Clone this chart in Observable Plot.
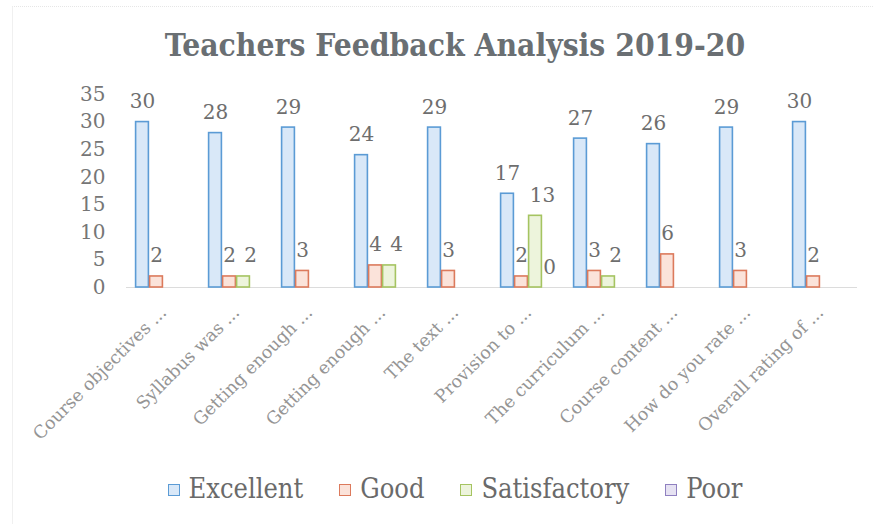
<!DOCTYPE html>
<html>
<head>
<meta charset="utf-8">
<script src="https://cdn.jsdelivr.net/npm/d3@7"></script>
<script src="https://cdn.jsdelivr.net/npm/@observablehq/plot@0.6"></script>
<style>
  body { margin: 0; background: #fff; }
  #wrap { position: relative; width: 874px; height: 524px; overflow: hidden; background: #fff; }
  #frame { position: absolute; left: 12px; top: 6px; width: 880px; height: 530px; border-top: 1px dotted #e6e6e6; border-left: 1px solid #f0f0f0; }
  #title { position: absolute; top: 26px; left: 36px; width: 838px; text-align: center;
           font: bold 31.5px "DejaVu Serif Condensed", "DejaVu Serif", serif; color: #6a6f73; }
  #chart { position: absolute; top: 75px; left: 0; }
  #legend { position: absolute; top: 473px; left: 36px; width: 838px; display: flex; justify-content: center;
            font: 27px "DejaVu Serif Condensed", "DejaVu Serif", serif; color: #6a6a6a; }
  .item { display: flex; align-items: center; margin: 0 18px; }
  .sw { width: 10px; height: 10px; border: 1px solid; margin-right: 9px; margin-top: 3px; }
</style>
</head>
<body>
<div id="wrap">
  <div id="frame"></div>
  <div id="title">Teachers Feedback Analysis 2019-20</div>
  <div id="chart"></div>
  <div id="legend"></div>
</div>
<script>
const categories = ["Course objectives ...", "Syllabus was ...", "Getting enough ...", "Getting enough ...", "The text ...",
                    "Provision to ...", "The curriculum ...", "Course content ...", "How do you rate ...", "Overall rating of ..."];
const series = ["Excellent", "Good", "Satisfactory", "Poor"];
const excellent    = [30, 28, 29, 24, 29, 17, 27, 26, 29, 30];
const good         = [2, 2, 3, 4, 3, 2, 3, 6, 3, 2];
const satisfactory = [null, 2, null, 4, null, 13, 2, null, null, null];
const poor         = [null, null, null, null, null, 0, null, null, null, null];
const yTicks = [0, 5, 10, 15, 20, 25, 30, 35];

const strokes = ["#5b9bd5", "#dc7a5c", "#a5c461", "#8f80c0"];
const fills   = ["#d9e8f8", "#fbe3da", "#edf4dc", "#e6e2f2"];
const labelDx = [0, 0, 7, 0];

const values = [excellent, good, satisfactory, poor];
const rows = [];
categories.forEach((c, i) => series.forEach((s, j) => rows.push({q: i, series: s, value: values[j][i]})));
const shown = rows.filter(d => d.value != null);

const labelMarks = series.map((s, j) => Plot.text(shown.filter(d => d.series === s), {
  fx: "q", x: "series", y: "value", text: d => String(d.value),
  lineAnchor: "bottom", dy: -14, dx: labelDx[j], fontSize: 20, fill: "#6e6e6e"
}));

const chart = Plot.plot({
  width: 874, height: 380,
  marginLeft: 124, marginRight: 15, marginTop: 19, marginBottom: 168,
  style: {fontFamily: "'DejaVu Serif', serif", background: "transparent", color: "#707070"},
  fx: {domain: d3.range(categories.length), paddingInner: 0.2, paddingOuter: 0.11, axis: null},
  x: {domain: series, padding: 0, axis: null},
  y: {domain: [0, 35], axis: null},
  color: {domain: series, range: fills},
  marks: [
    Plot.ruleY([0], {stroke: "#dcdcdc", strokeWidth: 1, insetLeft: -8, insetRight: -8}),
    Plot.barY(shown.filter(d => d.value > 0), {
      fx: "q", x: "series", y: "value",
      fill: "series", stroke: d => strokes[series.indexOf(d.series)], strokeWidth: 1.6,
      insetLeft: 0.6, insetRight: 0.6
    }),
    ...labelMarks,
    Plot.axisY({ticks: yTicks, tickSize: 0, tickPadding: 29, fontSize: 20, fontFamily: "DejaVu Serif", label: null, fill: "#767676"}),
    Plot.axisFx({anchor: "bottom", tickRotate: -45, tickSize: 0, tickPadding: 22, fontSize: 17.5, label: null,
                 tickFormat: i => categories[i], fill: "#959595"})
  ]
});
document.getElementById("chart").appendChild(chart);

const legend = document.getElementById("legend");
series.forEach((s, j) => {
  const item = document.createElement("div");
  item.className = "item";
  const sw = document.createElement("span");
  sw.className = "sw";
  sw.style.background = fills[j];
  sw.style.borderColor = strokes[j];
  const t = document.createElement("span");
  t.textContent = s;
  item.appendChild(sw); item.appendChild(t);
  legend.appendChild(item);
});
</script>
</body>
</html>
